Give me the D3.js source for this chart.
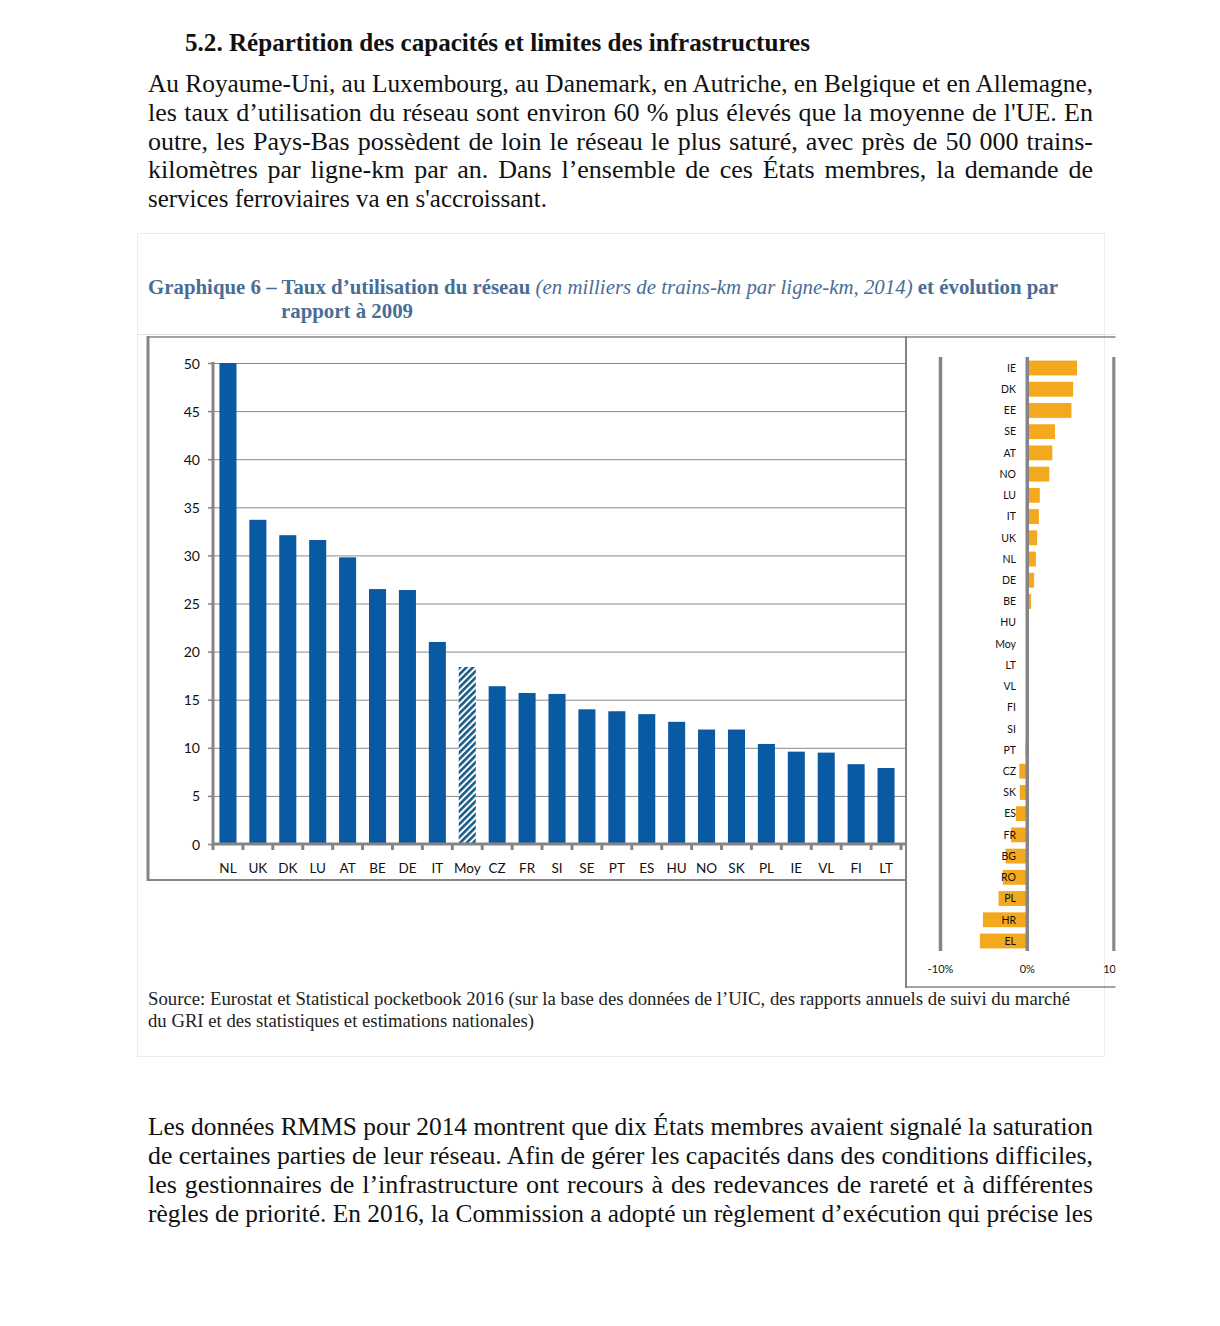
<!DOCTYPE html>
<html>
<head>
<meta charset="utf-8">
<script src="https://cdn.jsdelivr.net/npm/d3@7/dist/d3.min.js"></script>
<style>
  html, body { margin: 0; padding: 0; background: #fff; }
  svg { display: block; }
</style>
</head>
<body>
<svg id="page" width="1220" height="1326"></svg>
<script>
// ---------------- DATA ----------------
const categoriesLeft = ["NL","UK","DK","LU","AT","BE","DE","IT","Moy","CZ","FR","SI","SE","PT","ES","HU","NO","SK","PL","IE","VL","FI","LT"];
const valuesLeft = [50,33.7,32.1,31.6,29.8,26.5,26.4,21.0,18.4,16.4,15.7,15.6,14.0,13.8,13.5,12.7,11.9,11.9,10.4,9.6,9.5,8.3,7.9];
const yTicksLeft = [0,5,10,15,20,25,30,35,40,45,50];

const categoriesRight = ["IE","DK","EE","SE","AT","NO","LU","IT","UK","NL","DE","BE","HU","Moy","LT","VL","FI","SI","PT","CZ","SK","ES","FR","BG","RO","PL","HR","EL"];
const valuesRight = [5.8,5.35,5.15,3.25,2.95,2.6,1.5,1.4,1.2,1.05,0.85,0.5,0.2,0,0,0,0,0,-0.15,-0.85,-0.8,-1.25,-1.8,-2.45,-2.75,-3.25,-5.05,-5.4];
const xTicksRight = [-10,0,10];
const xTickLabelsRight = ["-10%","0%","10%"];

const heading = "5.2. Répartition des capacités et limites des infrastructures";
const para1 = [
  "Au Royaume-Uni, au Luxembourg, au Danemark, en Autriche, en Belgique et en Allemagne,",
  "les taux d’utilisation du réseau sont environ 60 % plus élevés que la moyenne de l'UE. En",
  "outre, les Pays-Bas possèdent de loin le réseau le plus saturé, avec près de 50 000 trains-",
  "kilomètres par ligne-km par an. Dans l’ensemble de ces États membres, la demande de",
  "services ferroviaires va en s'accroissant."
];
const para2 = [
  "Les données RMMS pour 2014 montrent que dix États membres avaient signalé la saturation",
  "de certaines parties de leur réseau. Afin de gérer les capacités dans des conditions difficiles,",
  "les gestionnaires de l’infrastructure ont recours à des redevances de rareté et à différentes",
  "règles de priorité. En 2016, la Commission a adopté un règlement d’exécution qui précise les"
];
const titleParts1 = [
  {t: "Graphique 6 – Taux d’utilisation du réseau ", style: "bold"},
  {t: "(en milliers de trains-km par ligne-km, 2014)", style: "italic"},
  {t: " et évolution par", style: "bold"}
];
const titleLine2 = "rapport à 2009";
const sourceLines = [
  "Source: Eurostat et Statistical pocketbook 2016 (sur la base des données de l’UIC, des rapports annuels de suivi du marché",
  "du GRI et des statistiques et estimations nationales)"
];

// ---------------- DRAWING ----------------
const svg = d3.select("#page");
const serif = "'Liberation Serif', 'Times New Roman', serif";
const sans = "Lato, 'Open Sans', sans-serif";
const gray = "#858585";

// helper: fit a line of text to a width
function fitLine(sel, target, justify) {
  const node = sel.node();
  const len = node.getComputedTextLength();
  if (len > target || !justify) {
    sel.attr("textLength", target).attr("lengthAdjust", "spacingAndGlyphs");
  } else {
    const txt = node.textContent;
    const spaces = (txt.match(/ /g) || []).length;
    if (spaces > 0) sel.attr("word-spacing", (target - len) / spaces);
  }
}

const bodySize = 26;

// Heading
const h = svg.append("text").attr("x", 185).attr("y", 51)
  .attr("font-family", serif).attr("font-weight", "bold").attr("font-size", 24.5)
  .attr("fill", "#111").text(heading);
fitLine(h, 625, false);

// Paragraph 1
para1.forEach((line, i) => {
  const t = svg.append("text").attr("x", 148).attr("y", 92 + i * 28.8)
    .attr("font-family", serif).attr("font-size", bodySize).attr("fill", "#111").text(line);
  fitLine(t, i < para1.length - 1 ? 945 : 399, i < para1.length - 1);
});

// Paragraph 2
para2.forEach((line, i) => {
  const t = svg.append("text").attr("x", 148).attr("y", 1135 + i * 29)
    .attr("font-family", serif).attr("font-size", bodySize).attr("fill", "#111").text(line);
  fitLine(t, 945, true);
});

// Outer faint figure frame
svg.append("rect").attr("x", 137.5).attr("y", 233.5).attr("width", 967).attr("height", 823)
  .attr("fill", "none").attr("stroke", "#ececec").attr("stroke-width", 1);
svg.append("line").attr("x1", 137).attr("x2", 1115).attr("y1", 334.5).attr("y2", 334.5)
  .attr("stroke", "#e4e4e4");

// Chart title
const titleColor = "#4a6d97";
const tt = svg.append("text").attr("x", 148).attr("y", 294)
  .attr("font-family", serif).attr("font-size", 21.5).attr("fill", titleColor);
titleParts1.forEach(p => {
  tt.append("tspan").attr("font-weight", p.style === "bold" ? "bold" : "normal")
    .attr("font-style", p.style === "italic" ? "italic" : "normal").text(p.t);
});
fitLine(tt, 910, false);
const tt2 = svg.append("text").attr("x", 281).attr("y", 318)
  .attr("font-family", serif).attr("font-size", 21.5).attr("font-weight", "bold")
  .attr("fill", titleColor).text(titleLine2);
fitLine(tt2, 132, false);

// Source
sourceLines.forEach((line, i) => {
  const t = svg.append("text").attr("x", 148).attr("y", 1005 + i * 22)
    .attr("font-family", serif).attr("font-size", 19).attr("fill", "#222").text(line);
  fitLine(t, i === 0 ? 922 : 386, false);
});

// ---------- LEFT CHART ----------
const L = svg.append("g");
L.append("line").attr("x1", 148).attr("x2", 906).attr("y1", 337).attr("y2", 337).attr("stroke", gray).attr("stroke-width", 1.5);
L.append("line").attr("x1", 148).attr("x2", 148).attr("y1", 336).attr("y2", 881).attr("stroke", gray).attr("stroke-width", 3);
L.append("line").attr("x1", 147).attr("x2", 906).attr("y1", 880).attr("y2", 880).attr("stroke", gray).attr("stroke-width", 2);

const x = d3.scaleBand().domain(categoriesLeft).range([213, 901]).paddingInner(0.43).paddingOuter(0.215);
const y = d3.scaleLinear().domain([0, 50]).range([844, 363]);

// gridlines
L.append("g").attr("transform", "translate(213,0)")
  .call(d3.axisLeft(y).tickValues(yTicksLeft.filter(v => v > 0)).tickSize(-693).tickFormat(""))
  .call(g => g.select(".domain").remove())
  .call(g => g.selectAll("line").attr("stroke", "#8a8a8a").attr("stroke-width", 1));

// hatch pattern for Moy
const defs = svg.append("defs");
const pat = defs.append("pattern").attr("id", "hatch").attr("patternUnits", "userSpaceOnUse")
  .attr("width", 4.6).attr("height", 4.6).attr("patternTransform", "rotate(45)");
pat.append("rect").attr("width", 4.6).attr("height", 4.6).attr("fill", "#fff");
pat.append("rect").attr("width", 2.6).attr("height", 4.6).attr("fill", "#175a86");

// bars
L.append("g").selectAll("rect").data(categoriesLeft).join("rect")
  .attr("x", d => x(d))
  .attr("y", (d, i) => y(valuesLeft[i]))
  .attr("width", x.bandwidth())
  .attr("height", (d, i) => y(0) - y(valuesLeft[i]))
  .attr("fill", d => d === "Moy" ? "url(#hatch)" : "#0a5aa3");

// y axis
L.append("g").attr("transform", "translate(213,0)")
  .call(d3.axisLeft(y).tickValues(yTicksLeft).tickSize(5).tickPadding(8))
  .call(g => g.select(".domain").attr("stroke", gray).attr("stroke-width", 3).attr("d", "M0,362V846"))
  .call(g => g.selectAll(".tick line").attr("stroke", gray).attr("stroke-width", 1.5))
  .call(g => g.selectAll("text").attr("font-family", sans).attr("font-size", 14).attr("fill", "#111").attr("dy", "0.36em"));

// x axis
const step = x.step();
L.append("g").attr("transform", "translate(0,844)")
  .call(d3.axisBottom(x).tickSize(0).tickPadding(19))
  .call(g => g.select(".domain").attr("stroke", gray).attr("stroke-width", 3).attr("d", "M212,0H906"))
  .call(g => g.selectAll("text").attr("font-family", sans).attr("font-size", 13.5).attr("fill", "#111"));
const bounds = categoriesLeft.map(c => x(c) - step * x.paddingInner() / 2).concat([x(categoriesLeft[categoriesLeft.length - 1]) + x.bandwidth() + step * x.paddingInner() / 2]);
L.append("g").selectAll("line").data(bounds).join("line")
  .attr("x1", d => d).attr("x2", d => d).attr("y1", 844).attr("y2", 850)
  .attr("stroke", gray).attr("stroke-width", 3);

// ---------- RIGHT CHART ----------
defs.append("clipPath").attr("id", "rclip").append("rect")
  .attr("x", 900).attr("y", 330).attr("width", 215.5).attr("height", 670);
const R = svg.append("g").attr("clip-path", "url(#rclip)");
R.append("line").attr("x1", 906).attr("x2", 1116).attr("y1", 337).attr("y2", 337).attr("stroke", gray).attr("stroke-width", 1.5);
R.append("line").attr("x1", 906).attr("x2", 906).attr("y1", 336).attr("y2", 988).attr("stroke", gray).attr("stroke-width", 2);
R.append("line").attr("x1", 906).attr("x2", 1116).attr("y1", 987).attr("y2", 987).attr("stroke", gray).attr("stroke-width", 1.5);

const xr = d3.scaleLinear().domain([-10, 10]).range([940, 1113.5]);
const yr = d3.scaleBand().domain(categoriesRight).range([357.4, 951.6]).paddingInner(0.3).paddingOuter(0.15);

R.append("g").selectAll("rect").data(categoriesRight).join("rect")
  .attr("x", (d, i) => xr(Math.min(0, valuesRight[i])))
  .attr("y", d => yr(d))
  .attr("width", (d, i) => Math.abs(xr(valuesRight[i]) - xr(0)))
  .attr("height", yr.bandwidth())
  .attr("fill", "#f4a81d");

R.append("g").attr("transform", "translate(0,951)")
  .call(d3.axisBottom(xr).tickValues(xTicksRight).tickSize(-594).tickPadding(14)
    .tickFormat((d, i) => xTickLabelsRight[i]))
  .call(g => g.select(".domain").remove())
  .call(g => g.selectAll(".tick line").attr("stroke", gray).attr("stroke-width", 3.5))
  .call(g => g.selectAll("text").attr("font-family", sans).attr("font-size", 11).attr("fill", "#111"));

R.append("g").selectAll("text").data(categoriesRight).join("text")
  .attr("x", 1016)
  .attr("y", d => yr(d) + yr.bandwidth() / 2)
  .attr("dy", "0.36em")
  .attr("text-anchor", "end")
  .attr("font-family", sans).attr("font-size", 10.5).attr("fill", "#111")
  .text(d => d);
</script>
</body>
</html>
